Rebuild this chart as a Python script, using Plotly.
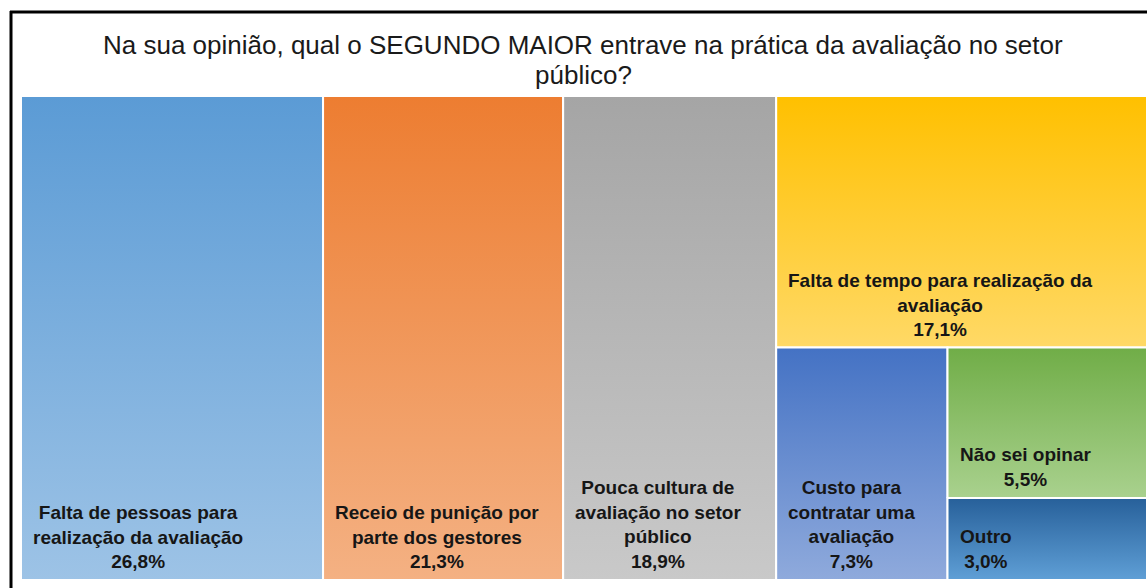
import plotly.graph_objects as go

# ---- data ----
categories = [
    "Falta de pessoas para<br>realização da avaliação",
    "Receio de punição por<br>parte dos gestores",
    "Pouca cultura de<br>avaliação no setor<br>público",
    "Falta de tempo para realização da<br>avaliação",
    "Custo para<br>contratar uma<br>avaliação",
    "Não sei opinar",
    "Outro",
]
values = [26.8, 21.3, 18.9, 17.1, 7.3, 5.5, 3.0]
value_labels = ["26,8%", "21,3%", "18,9%", "17,1%", "7,3%", "5,5%", "3,0%"]
top_colors = ["#5B9BD5", "#ED7D31", "#A5A5A5", "#FFC000", "#4472C4", "#70AD47", "#27609A"]
bottom_colors = ["#9DC3E6", "#F4B183", "#C9C9C9", "#FFD966", "#8FAADC", "#A9D18E", "#5F9FD6"]

# nested slice/dice grouping (indices into the lists above)
tree = [0, 1, 2, [3, [4, [5, 6]]]]

title_lines = ["Na sua opinião, qual o SEGUNDO MAIOR entrave na prática da avaliação no setor", "público?"]

# ---- layout geometry ----
W, H = 1147, 588
ML, MR, MT, MB = 21, 0, 96, 8


def total(node):
    if isinstance(node, list):
        return sum(total(n) for n in node)
    return values[node]


rects = {}


def tile(node, x0, x1, y0, y1, horizontal):
    if not isinstance(node, list):
        rects[node] = (x0, x1, y0, y1)
        return
    s = total(node)
    if horizontal:
        cur = x0
        for ch in node:
            w = (x1 - x0) * total(ch) / s
            tile(ch, cur, cur + w, y0, y1, not horizontal)
            cur += w
    else:
        cur = y1
        for ch in node:
            h = (y1 - y0) * total(ch) / s
            tile(ch, x0, x1, cur - h, cur, not horizontal)
            cur -= h


tile(tree, 0, 100, 0, 100, True)

fig = go.Figure()
annotations = []
for i in range(len(values)):
    x0, x1, y0, y1 = rects[i]
    fig.add_trace(go.Scatter(
        x=[x0, x1, x1, x0, x0], y=[y0, y0, y1, y1, y0],
        mode="lines", fill="toself",
        line=dict(color="white", width=2),
        fillgradient=dict(type="vertical", start=y0, stop=y1,
                          colorscale=[[0, bottom_colors[i]], [1, top_colors[i]]]),
        hoverinfo="skip", showlegend=False,
    ))
    annotations.append(dict(
        x=x0, y=y0, xref="x", yref="y", xanchor="left", yanchor="bottom",
        xshift=10, yshift=6, align="center", showarrow=False,
        text="<b>" + categories[i] + "<br>" + value_labels[i] + "</b>",
        font=dict(family="Liberation Sans, Arial, sans-serif", size=19, color="#161616"),
    ))

pw = W - ML - MR
ph = H - MT - MB


def px_x(p):
    return (p - ML) / pw


def px_y(p):
    return (H - MB - p) / ph


for k, (line, ypx) in enumerate(zip(title_lines, [45, 75])):
    annotations.append(dict(
        x=px_x(583), y=px_y(ypx), xref="paper", yref="paper", xanchor="center", yanchor="middle",
        showarrow=False, text=line, align="center",
        font=dict(family="Liberation Sans, Arial, sans-serif", size=26, color="#1a1a1a"),
    ))

shapes = [
    dict(type="line", xref="paper", yref="paper", x0=px_x(10), x1=px_x(1150),
         y0=px_y(12), y1=px_y(12), line=dict(color="black", width=3)),
    dict(type="line", xref="paper", yref="paper", x0=px_x(11), x1=px_x(11),
         y0=px_y(11), y1=px_y(600), line=dict(color="black", width=3)),
]

fig.update_layout(
    width=W, height=H,
    margin=dict(l=ML, r=MR, t=MT, b=MB),
    paper_bgcolor="white", plot_bgcolor="white",
    xaxis=dict(range=[0, 100], visible=False, fixedrange=True),
    yaxis=dict(range=[0, 100], visible=False, fixedrange=True),
    annotations=annotations, shapes=shapes,
)

fig.write_html("out.html", config={"displayModeBar": False},
               post_script="document.body.style.margin='0';document.body.style.overflow='hidden';")
